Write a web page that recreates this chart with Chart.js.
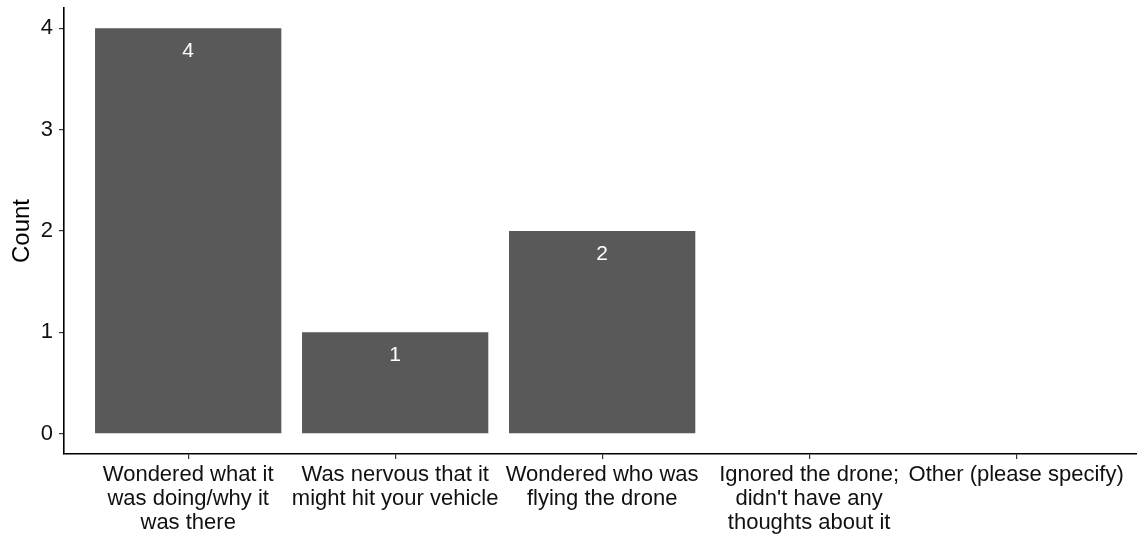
<!DOCTYPE html>
<html>
<head>
<meta charset="utf-8">
<script src="https://cdn.jsdelivr.net/npm/chart.js@4/dist/chart.umd.min.js"></script>
<style>
  html, body { margin: 0; padding: 0; background: #ffffff; overflow: hidden; }
  #wrap { width: 1137px; height: 535px; position: relative; }
</style>
</head>
<body>
<div id="wrap"><canvas id="c"></canvas></div>
<script>
const categories = [
  ["Wondered what it", "was doing/why it", "was there"],
  ["Was nervous that it", "might hit your vehicle"],
  ["Wondered who was", "flying the drone"],
  ["Ignored the drone;", "didn't have any", "thoughts about it"],
  ["Other (please specify)"]
];
const counts = [4, 1, 2, 0, 0];
const yTicks = [0, 1, 2, 3, 4];
const yTitle = "Count";

const FONT = "'Liberation Sans', Arial, sans-serif";
const positions = categories.map((c, i) => i + 1);

const barLabels = {
  id: 'barLabels',
  afterDatasetsDraw(chart) {
    const ctx = chart.ctx;
    const meta = chart.getDatasetMeta(0);
    ctx.save();
    ctx.fillStyle = '#ffffff';
    ctx.font = "21px " + FONT;
    ctx.textAlign = 'center';
    ctx.textBaseline = 'middle';
    meta.data.forEach((el, i) => {
      const v = counts[i];
      if (v > 0) ctx.fillText(String(v), el.x, el.y + 23);
    });
    ctx.restore();
  }
};

new Chart(document.getElementById('c'), {
  type: 'bar',
  data: {
    datasets: [{
      data: positions.map((x, i) => ({ x: x, y: counts[i] })),
      backgroundColor: '#595959',
      borderWidth: 0,
      barPercentage: 0.9,
      categoryPercentage: 1.0
    }]
  },
  options: {
    responsive: true,
    maintainAspectRatio: false,
    animation: false,
    layout: { padding: { top: 8, right: 0, left: 0, bottom: 0 } },
    plugins: { legend: { display: false }, tooltip: { enabled: false } },
    scales: {
      x: {
        type: 'linear',
        min: 0.4,
        max: 5.584,
        offset: false,
        afterBuildTicks(scale) { scale.ticks = positions.map(v => ({ value: v })); },
        afterFit(scale) {
          scale.height = 81;
          scale.paddingLeft = 0; scale.paddingRight = 0;
          scale.paddingTop = 0; scale.paddingBottom = 0;
        },
        ticks: {
          autoSkip: false,
          maxRotation: 0,
          minRotation: 0,
          padding: 4,
          color: '#111111',
          font: { family: FONT, size: 22, lineHeight: '24px' },
          callback: (v) => {
            const i = Math.round(v) - 1;
            return categories[i] || '';
          }
        },
        grid: { display: true, offset: false, drawOnChartArea: false, drawTicks: true, tickLength: 5, color: '#333333', lineWidth: 1.2 },
        border: { display: true, color: '#000000', width: 1.6 }
      },
      y: {
        min: -0.2,
        max: 4.2,
        afterBuildTicks(scale) { scale.ticks = yTicks.map(v => ({ value: v })); },
        afterFit(scale) {
          scale.width = 64;
          scale.paddingTop = 0; scale.paddingBottom = 0;
          scale.paddingLeft = 0; scale.paddingRight = 0;
        },
        ticks: {
          padding: 6,
          color: '#111111',
          font: { family: FONT, size: 22 },
          callback: (v) => String(v)
        },
        title: {
          display: true,
          text: yTitle,
          color: '#000000',
          font: { family: FONT, size: 24 },
          padding: { top: 8, bottom: 0 }
        },
        grid: { display: true, offset: false, drawOnChartArea: false, drawTicks: true, tickLength: 5, color: '#333333', lineWidth: 1.2 },
        border: { display: true, color: '#000000', width: 1.6 }
      }
    }
  },
  plugins: [barLabels]
});
</script>
</body>
</html>
